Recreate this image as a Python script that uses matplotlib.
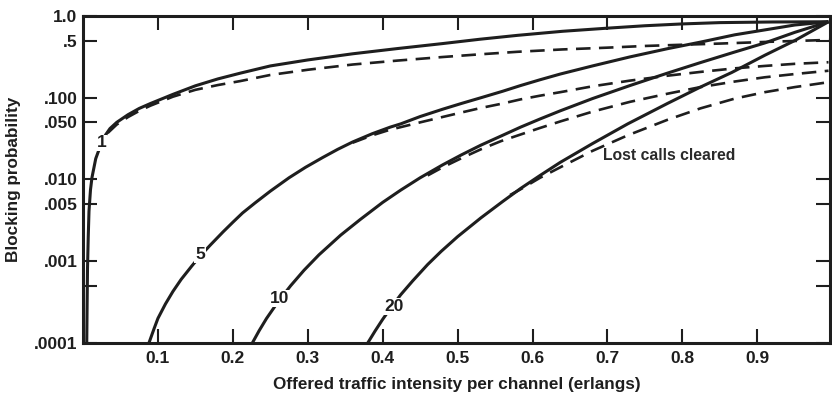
import matplotlib
matplotlib.use("Agg")
import matplotlib.pyplot as plt
from matplotlib.ticker import FixedLocator, NullLocator

plt.rcParams['font.family'] = ['Liberation Sans', 'DejaVu Sans']

# ---- data (traffic per channel, blocking probability) ----
# solid: lost calls delayed ; dashed: lost calls cleared
n1_solid_x = [0.005, 0.0055, 0.006, 0.007, 0.008, 0.010, 0.012, 0.017, 0.024, 0.030, 0.036, 0.045, 0.06, 0.075, 0.09,
              0.12, 0.15, 0.18, 0.21, 0.25, 0.30, 0.36, 0.42, 0.48, 0.53, 0.58, 0.64, 0.70, 0.75, 0.80, 0.85, 0.92, 0.995]
n1_solid_y = [0.0001, 0.0003, 0.0008, 0.002, 0.0041, 0.0075, 0.0106, 0.018, 0.027, 0.035, 0.042, 0.05, 0.062, 0.074, 0.085,
              0.11, 0.14, 0.17, 0.20, 0.245, 0.29, 0.345, 0.40, 0.46, 0.52, 0.58, 0.65, 0.71, 0.76, 0.80, 0.83, 0.845, 0.85]
n1_dash_x = [0.033, 0.045, 0.06, 0.075, 0.09, 0.12, 0.15, 0.18, 0.21, 0.25, 0.30, 0.36, 0.42, 0.48, 0.53, 0.58,
             0.64, 0.70, 0.75, 0.80, 0.85, 0.92, 0.995]
n1_dash_y = [0.037, 0.047, 0.058, 0.069, 0.080, 0.103, 0.125, 0.143, 0.16, 0.19, 0.22, 0.255, 0.285, 0.315, 0.34, 0.365,
             0.39, 0.41, 0.43, 0.445, 0.46, 0.485, 0.51]

n5_solid_x = [0.088, 0.095, 0.10, 0.11, 0.12, 0.131, 0.145, 0.156, 0.17, 0.187, 0.20, 0.213, 0.23, 0.25, 0.275, 0.297,
              0.32, 0.34, 0.36, 0.386, 0.41, 0.424, 0.45, 0.48, 0.505, 0.531, 0.56, 0.584, 0.61, 0.637, 0.68, 0.73,
              0.78, 0.824, 0.87, 0.91, 0.95, 0.995]
n5_solid_y = [0.0001, 0.000151, 0.0002, 0.0003, 0.000427, 0.0006, 0.00087, 0.00115, 0.00158, 0.00229, 0.0030, 0.0039,
              0.0052, 0.0072, 0.0105, 0.0141, 0.0186, 0.0234, 0.0288, 0.0363, 0.0437, 0.0479, 0.0589, 0.0724, 0.0851,
              0.100, 0.120, 0.141, 0.166, 0.195, 0.245, 0.316, 0.398, 0.479, 0.589, 0.676, 0.776, 0.85]
n5_dash_x = [0.36, 0.386, 0.41, 0.424, 0.45, 0.48, 0.505, 0.531, 0.56, 0.584, 0.61, 0.637, 0.68, 0.73, 0.78, 0.824,
             0.87, 0.91, 0.95, 0.995]
n5_dash_y = [0.0282, 0.0347, 0.0407, 0.0437, 0.050, 0.0582, 0.066, 0.075, 0.085, 0.0955, 0.106, 0.117, 0.138, 0.162,
             0.186, 0.207, 0.229, 0.245, 0.26, 0.272]

n10_solid_x = [0.226, 0.235, 0.245, 0.26, 0.277, 0.295, 0.315, 0.344, 0.37, 0.40, 0.424, 0.45, 0.48, 0.505, 0.531,
               0.56, 0.584, 0.61, 0.637, 0.68, 0.73, 0.78, 0.824, 0.87, 0.91, 0.95, 0.995]
n10_solid_y = [0.0001, 0.000141, 0.0002, 0.000316, 0.0005, 0.000776, 0.0012, 0.00209, 0.00324, 0.00525, 0.00741,
               0.0105, 0.0151, 0.020, 0.0263, 0.0347, 0.0437, 0.055, 0.0692, 0.0977, 0.141, 0.20, 0.269, 0.363,
               0.468, 0.631, 0.85]
n10_dash_x = [0.46, 0.48, 0.505, 0.531, 0.558, 0.584, 0.61, 0.637, 0.68, 0.73, 0.78, 0.824, 0.87, 0.91, 0.95, 0.995]
n10_dash_y = [0.0112, 0.0141, 0.0182, 0.0234, 0.0295, 0.0355, 0.0427, 0.0513, 0.0676, 0.0891, 0.112, 0.135, 0.158,
              0.178, 0.195, 0.214]

n20_solid_x = [0.38, 0.39, 0.40, 0.41, 0.424, 0.44, 0.46, 0.478, 0.50, 0.531, 0.56, 0.584, 0.61, 0.637, 0.68, 0.727,
               0.78, 0.824, 0.866, 0.91, 0.95, 0.995]
n20_solid_y = [0.0001, 0.000141, 0.000195, 0.000263, 0.000389, 0.000575, 0.000912, 0.00132, 0.0020, 0.00339, 0.00537,
               0.00776, 0.0112, 0.0162, 0.0275, 0.0479, 0.0851, 0.135, 0.204, 0.331, 0.501, 0.85]
n20_dash_x = [0.57, 0.584, 0.61, 0.637, 0.68, 0.727, 0.78, 0.824, 0.87, 0.91, 0.95, 0.995]
n20_dash_y = [0.00646, 0.00759, 0.0105, 0.0141, 0.0224, 0.0347, 0.0537, 0.0741, 0.0977, 0.117, 0.135, 0.155]

curve_labels = ["1", "5", "10", "20"]
label_x = [0.025, 0.156, 0.262, 0.415]
label_y = [0.028, 0.0012, 0.00035, 0.00028]

x_ticks = [0.1, 0.2, 0.3, 0.4, 0.5, 0.6, 0.7, 0.8, 0.9]
x_tick_labels = ["0.1", "0.2", "0.3", "0.4", "0.5", "0.6", "0.7", "0.8", "0.9"]
y_ticks = [1.0, 0.5, 0.1, 0.05, 0.01, 0.005, 0.001, 0.0005, 0.0001]
y_tick_labels = ["1.0", ".5", ".100", ".050", ".010", ".005", ".001", "", ".0001"]

# ---- figure ----
W, H, DPI = 832, 396, 100
fig = plt.figure(figsize=(W / DPI, H / DPI), dpi=DPI)
ax = fig.add_axes([83 / W, 1 - 343 / H, (830 - 83) / W, (343 - 16) / H])

ink = "#1e1e1e"
solid_kw = dict(color=ink, lw=2.2, solid_capstyle="butt", solid_joinstyle="round")
dash_kw = dict(color=ink, lw=1.9, dashes=(5.5, 3.2))

ax.plot(n1_solid_x, n1_solid_y, **solid_kw)
ax.plot(n5_solid_x, n5_solid_y, **solid_kw)
ax.plot(n10_solid_x, n10_solid_y, **solid_kw)
ax.plot(n20_solid_x, n20_solid_y, **solid_kw)
ax.plot(n1_dash_x, n1_dash_y, **dash_kw)
ax.plot(n5_dash_x, n5_dash_y, **dash_kw)
ax.plot(n10_dash_x, n10_dash_y, **dash_kw)
ax.plot(n20_dash_x, n20_dash_y, **dash_kw)

for t, lx, ly in zip(curve_labels, label_x, label_y):
    ax.text(lx, ly, t, ha="center", va="center", fontsize=12.5, fontweight="bold",
            color=ink, bbox=dict(facecolor="white", edgecolor="none", pad=0.6), zorder=5)

ax.text(0.694, 0.0197, "Lost calls cleared", ha="left", va="center",
        fontsize=11.3, fontweight="bold", color="#2a2a2a")

ax.set_yscale("log")
ax.set_xlim(0, 0.997)
ax.set_ylim(0.0001, 1.0)
ax.xaxis.set_major_locator(FixedLocator(x_ticks))
ax.set_xticklabels(x_tick_labels)
ax.yaxis.set_major_locator(FixedLocator(y_ticks))
ax.set_yticklabels(y_tick_labels)
ax.yaxis.set_minor_locator(NullLocator())
ax.xaxis.set_minor_locator(NullLocator())

ax.tick_params(axis="both", which="major", direction="in", length=10, width=1.5,
               color=ink, top=True, right=True, labelsize=12.5, pad=6)
for lab in ax.get_xticklabels() + ax.get_yticklabels():
    lab.set_fontweight("bold")
    lab.set_color(ink)
ax.tick_params(axis="y", pad=4)

for s in ax.spines.values():
    s.set_linewidth(2.2)
    s.set_color(ink)

ax.set_xlabel("Offered traffic intensity per channel (erlangs)", fontsize=12.3,
              fontweight="bold", color=ink, labelpad=8)
ax.set_ylabel("Blocking probability", fontsize=12.3, fontweight="bold", color=ink, labelpad=9)

fig.savefig("out.png", dpi=DPI)
